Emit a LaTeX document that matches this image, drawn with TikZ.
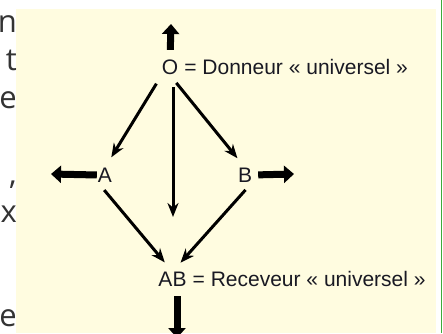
\documentclass[tikz,border=0pt]{standalone}
\usepackage{fontspec}
\setmainfont{Liberation Sans}
\newfontfamily\sidefont{Open Sans}
\usetikzlibrary{arrows.meta}
\definecolor{cream}{RGB}{255,252,224}
\definecolor{framegreen}{RGB}{60,170,60}
\definecolor{sidegray}{RGB}{51,51,51}
\definecolor{ink}{RGB}{25,25,35}
\begin{document}
\begin{tikzpicture}[x=1pt, y=-1pt, >={Stealth[length=14pt,width=11pt]},
    grp/.style={inner sep=0pt, font=\fontsize{21}{25}\selectfont, text=ink},
    desc/.style={inner sep=0pt, anchor=base west, font=\fontsize{21}{25}\selectfont, text=ink},
    side/.style={inner sep=0pt, anchor=base east, font=\sidefont\fontsize{31}{38}\selectfont, text=sidegray},
    flow/.style={->, line width=3pt, shorten <=10pt, shorten >=12pt},
    stub/.style={-{Triangle[length=10pt,width=17pt]}, line width=7pt}]
    \useasboundingbox (0,0) rectangle (443,333);
    \clip (0,0) rectangle (443,333);
    % page
    \fill[white] (0,0) rectangle (443,333);
    \fill[cream] (16,9) rectangle (436,333);
    \draw[framegreen, line width=1.5pt] (441.5,0) -- (441.5,333);
    \foreach \yb/\ch [count=\i] in {32/n, 70/t, 108/e, 184/{,}, 222/x, 326/e} \node[side] (side\i) at (17,\yb) {\ch};
    % groups
    \node[grp] (O) at (170,67.5) {O};
    \node[desc] (Odesc) at ([xshift=5.8pt]O.base east) {= Donneur « universel »};
    \node[grp] (A) at (105,175) {A};
    \node[grp] (B) at (245,175) {B};
    \node[grp] (AB) at (172.5,279) {AB};
    \node[desc] (ABdesc) at ([xshift=5.8pt]AB.base east) {= Receveur « universel »};
    % free ends
    \coordinate (Otop) at (171,24);
    \coordinate (Aout) at (51,174);
    \coordinate (Bout) at (294,174);
    \coordinate (ABout) at (177,338);
    \coordinate (Ostem) at (173,217);
    % small arrows
    \draw[stub, shorten <=10pt] (O.north) -- (Otop);
    \draw[stub, shorten <=1pt] (A.west) -- (Aout);
    \draw[stub, shorten <=6pt] (B.east) -- (Bout);
    \draw[stub, shorten <=10pt] ([xshift=4.5pt]AB.south) -- (ABout);
    % transfusions
    \foreach \a/\b in {O.south west/A.north, O.south/B.north, A.south west/AB.north, B.south east/AB.north} \draw[flow] (\a) -- (\b);
    \draw[flow, shorten <=12pt, shorten >=0pt] ([xshift=3pt]O.south) -- (Ostem);
\end{tikzpicture}
\end{document}
